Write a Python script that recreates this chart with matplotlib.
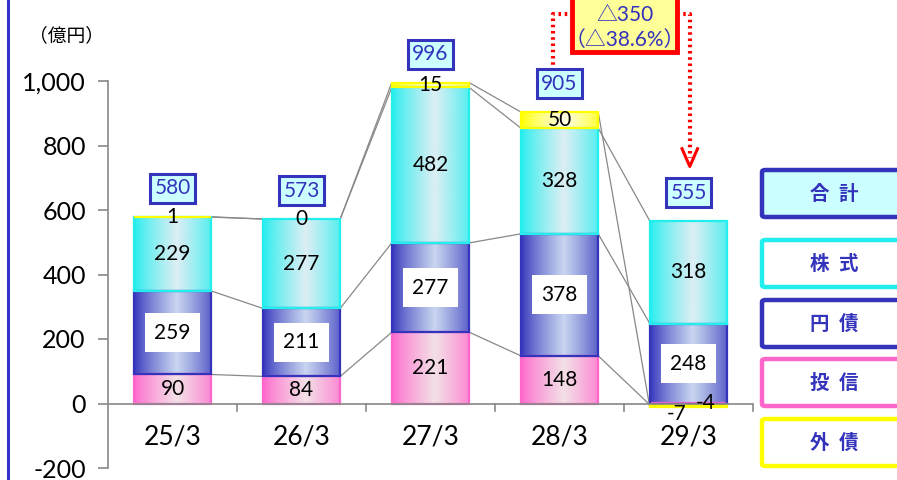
import numpy as np
import matplotlib
matplotlib.use("Agg")
import matplotlib.pyplot as plt
from matplotlib.patches import Rectangle, FancyBboxPatch
from matplotlib.colors import to_rgb

plt.rcParams['font.family'] = ['Lato', 'Noto Sans CJK JP', 'DejaVu Sans']

categories = ['25/3', '26/3', '27/3', '28/3', '29/3']
toushin = [90, 84, 221, 148, -4]     # 投信
yensai = [259, 211, 277, 378, 248]   # 円債
kabu = [229, 277, 482, 328, 318]     # 株式
gaisai = [1, 0, 15, 50, -7]          # 外債
totals = [580, 573, 996, 905, 555]   # 合計
yticks = [-200, 0, 200, 400, 600, 800, 1000]
change_text = "△350\n（△38.6%）"
legend_names = ['合  計', '株  式', '円  債', '投  信', '外  債']

series = [
    ('投信', toushin, '#FF66CC', '#F3E0E6'),
    ('円債', yensai, '#3333BB', '#C9D6F0'),
    ('株式', kabu, '#22EEEE', '#DCEEF4'),
    ('外債', gaisai, '#FFFF00', '#FFFFE8'),
]

W, H = 897, 480
fig = plt.figure(figsize=(W / 100, H / 100), dpi=100)
ax_l, ax_r = 108, 753
y0px, y1000px = 468, 81
ax = fig.add_axes([ax_l / W, (H - y0px) / H, (ax_r - ax_l) / W, (y0px - y1000px) / H])
ax.set_xlim(-0.5, 4.5)
ax.set_ylim(-200, 1000)

def grad(edge, center, n=128):
    e = np.array(to_rgb(edge)); c = np.array(to_rgb(center))
    t = np.linspace(0, 1, n)
    w = np.clip(1 - np.abs(t - 0.55) / 0.55, 0, 1) ** 0.8
    arr = e[None, :] * (1 - w[:, None]) + c[None, :] * w[:, None]
    return arr[None, :, :]

bw = 0.6
pos = np.zeros(len(categories))
neg = np.zeros(len(categories))
tops = []
segs = []
for name, vals, edge, center in series:
    img = grad(edge, center)
    t_list = []
    s_list = []
    for i, v in enumerate(vals):
        if v >= 0:
            b, t = pos[i], pos[i] + v
            pos[i] = t
        else:
            b, t = neg[i], neg[i] + v
            neg[i] = t
        t_list.append(t)
        s_list.append((b, t))
        if v != 0:
            lo, hi = min(b, t), max(b, t)
            ax.imshow(img, extent=[i - bw / 2, i + bw / 2, lo, hi], aspect='auto',
                      zorder=2, interpolation='bilinear')
            ax.add_patch(Rectangle((i - bw / 2, lo), bw, hi - lo, fill=False,
                                   edgecolor=edge, lw=1.6, zorder=3))
    tops.append(t_list)
    segs.append(s_list)

# series lines
for t_list in tops:
    for i in range(len(categories) - 1):
        ax.plot([i + bw / 2, i + 1 - bw / 2], [t_list[i], t_list[i + 1]],
                color='#888888', lw=0.9, zorder=1)

ax.set_xlim(-0.5, 4.5)
ax.set_ylim(-200, 1000)

# labels
fs = 15
for i in range(len(categories)):
    b, t = segs[0][i]
    v = toushin[i]
    if v >= 0:
        ax.text(i, (b + t) / 2, f"{v}", ha='center', va='center', fontsize=fs, zorder=5)
    else:
        ax.text(i + 0.13, 2, f"{v}", ha='center', va='center', fontsize=fs, zorder=5)
    b, t = segs[1][i]
    ax.text(i, (b + t) / 2, f"{yensai[i]}", ha='center', va='center', fontsize=fs, zorder=5,
            bbox=dict(boxstyle='square,pad=0.45', fc='white', ec='none'))
    b, t = segs[2][i]
    ax.text(i, (b + t) / 2, f"{kabu[i]}", ha='center', va='center', fontsize=fs, zorder=5)
    b, t = segs[3][i]
    v = gaisai[i]
    if v >= 0:
        ax.text(i, (b + t) / 2, f"{v}", ha='center', va='center', fontsize=fs, zorder=5)
    else:
        ax.text(i - 0.09, -33, f"{v}", ha='center', va='center', fontsize=fs, zorder=5)
    ax.text(i, pos[i] + 88, f"{totals[i]}", ha='center', va='center', fontsize=15,
            color='#3333BB', zorder=6,
            bbox=dict(boxstyle='square,pad=0.22', fc='#CCFFFF', ec='#3333BB', lw=2.2))

for i, c in enumerate(categories):
    ax.text(i, -105, c, ha='center', va='center', fontsize=19)

for s in ['top', 'right', 'bottom']:
    ax.spines[s].set_visible(False)
ax.spines['left'].set_color('#888888')
ax.spines['left'].set_linewidth(1.2)
ax.set_yticks(yticks)
ax.set_yticklabels([f"{v:,}" for v in yticks], fontsize=18)
ax.tick_params(axis='y', direction='out', length=7, color='#888888', width=1.2, pad=9)
ax.set_xticks([])
ax.axhline(0, color='#888888', lw=1.2, zorder=4)
for k in range(1, len(categories) + 1):
    ax.plot([k - 0.5, k - 0.5], [0, -22], color='#888888', lw=1.2, zorder=4, clip_on=False)

# change annotation
dash = dict(color='#FF0000', lw=3, ls=(0, (0.6, 0.9)), clip_on=False, zorder=5)
ax.plot([2.95, 2.95, 3.10], [1030, 1207, 1207], **dash)
ax.plot([3.91, 4.01, 4.01], [1207, 1207, 760], **dash)
ax.plot([3.95, 4.01, 4.07], [790, 735, 790], color='#FF0000', lw=2.2, clip_on=False, zorder=7)
ax.add_patch(Rectangle((3.10, 1090), 0.81, 180, fc='#FFFF99', ec='#FF0000', lw=3.5,
                       clip_on=False, zorder=8))
l1, l2 = change_text.split('\n')
ax.text(3.505, 1205, l1, ha='center', va='center', fontsize=15, color='#3333BB',
        zorder=9, clip_on=False)
ax.text(3.505, 1128, l2, ha='center', va='center', fontsize=15, color='#3333BB',
        zorder=9, clip_on=False)

fig.text(66 / W, 1 - 35 / H, "（億円）", ha='center', va='center', fontsize=13.5)

fig.add_artist(plt.Line2D([8 / W, 8 / W], [0, 1], color='#3333CC', lw=2.2))

leg_y = [170, 240, 300, 359, 419]
leg_edge = ['#3333BB', '#22EEEE', '#3333BB', '#FF66CC', '#FFFF00']
leg_fc = ['#CCFFFF', 'white', 'white', 'white', 'white']
for name, yy, ec, fc in zip(legend_names, leg_y, leg_edge, leg_fc):
    fig.add_artist(FancyBboxPatch((762 / W, 1 - (yy + 47) / H), 150 / W, 47 / H,
                                  boxstyle='round,pad=0,rounding_size=0.004',
                                  transform=fig.transFigure, fc=fc, ec=ec, lw=3.2))
    fig.text(834 / W, 1 - (yy + 23.5) / H, name, ha='center', va='center',
             fontsize=14, fontweight='bold', color='#3333BB')

fig.savefig('out.png', dpi=100)
